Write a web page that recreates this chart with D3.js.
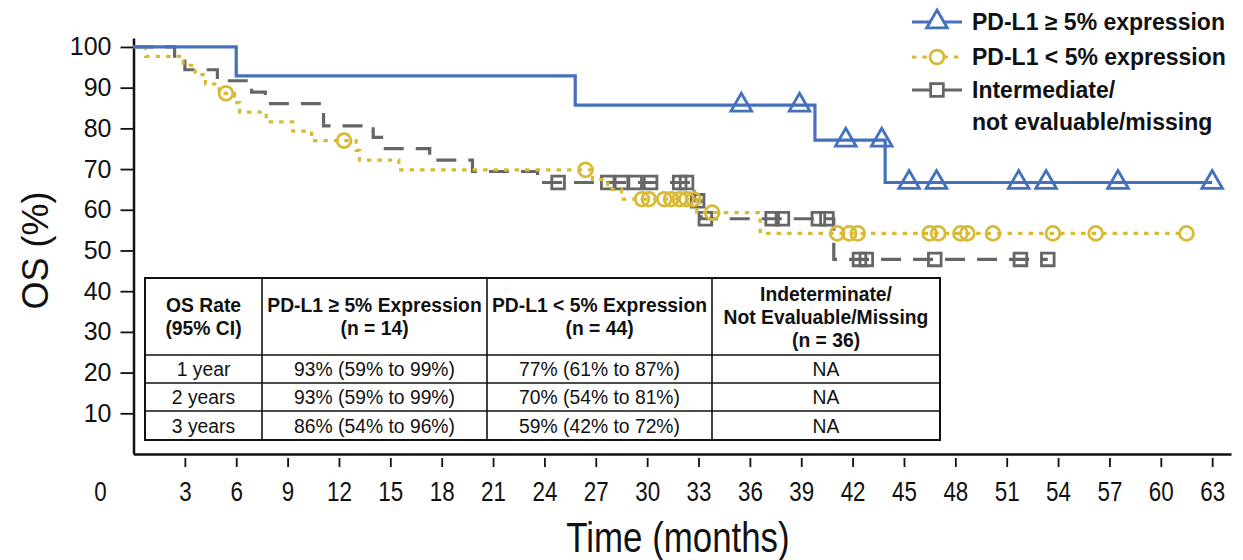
<!DOCTYPE html>
<html>
<head>
<meta charset="utf-8">
<script src="https://cdn.jsdelivr.net/npm/d3@7"></script>
<style>
  body { margin: 0; background: #fff; }
  svg text { font-family: "Liberation Sans", Arial, sans-serif; fill: #111; }
</style>
</head>
<body>
<svg id="chart" width="1243" height="560"></svg>
<script>
// ---- data ----
// step curves: time (months) where the curve drops, and the OS (%) after the drop
const highTimes  = [0, 6.0, 25.8, 39.8, 43.9];
const highValues = [100, 92.9, 85.7, 77.1, 66.7];
const highEnd = 63;
const highCensor = [35.5, 38.9, 41.6, 43.7, 45.3, 46.9, 51.7, 53.3, 57.5, 63.0];

const lowTimes  = [0, 0.7, 2.9, 3.6, 4.2, 5.0, 5.9, 6.2, 7.75, 9.3, 10.4, 13.0, 13.2, 15.5, 26.8, 27.7, 28.5, 32.9, 36.6];
const lowValues = [100, 97.7, 95.5, 93.2, 90.9, 88.6, 86.3, 84.0, 81.6, 79.3, 77.0, 74.6, 72.2, 69.8, 67.4, 65.0, 62.6, 59.3, 54.2];
const lowEnd = 61.5;
const lowCensor = [5.4, 12.3, 26.4, 29.7, 30.1, 31.0, 31.4, 31.9, 32.3, 32.7, 33.8,
                   41.1, 41.8, 42.3, 46.5, 47.0, 48.3, 48.7, 50.2, 53.7, 56.2, 61.5];

const otherTimes  = [0, 2.4, 3.0, 4.9, 6.9, 7.7, 11.1, 14.0, 14.6, 17.3, 19.8, 23.6, 32.75, 33.15, 40.9];
const otherValues = [100, 97.2, 94.4, 91.7, 88.9, 86.1, 80.6, 77.8, 75.0, 72.2, 69.4, 66.7, 62.2, 57.8, 47.8];
const otherEnd = 53.4;
const otherCensor = [24.8, 27.7, 28.5, 29.3, 30.2, 31.9, 32.3, 32.95, 33.4, 37.3, 37.9, 40.0, 40.5,
                     42.4, 42.8, 46.8, 51.8, 53.4];

const xTicks = d3.range(3, 64, 3);
const yTicks = d3.range(10, 101, 10);

const legendLabels = ["PD-L1 \u2265 5% expression", "PD-L1 < 5% expression", "Intermediate/", "not evaluable/missing"];

const tableHeader = [
  ["OS Rate", "(95% CI)"],
  ["PD-L1 \u2265 5% Expression", "(n = 14)"],
  ["PD-L1 < 5% Expression", "(n = 44)"],
  ["Indeterminate/", "Not Evaluable/Missing", "(n = 36)"]
];
const tableRows = [
  ["1 year",  "93% (59% to 99%)", "77% (61% to 87%)", "NA"],
  ["2 years", "93% (59% to 99%)", "70% (54% to 81%)", "NA"],
  ["3 years", "86% (54% to 96%)", "59% (42% to 72%)", "NA"]
];

// ---- chart ----
const svg = d3.select("#chart");
const blue = "#4470bd", gold = "#d8ba36", grey = "#666666";

const xScale = d3.scaleLinear().domain([0, 64.1]).range([133.5, 1231]);
const yScale = d3.scaleLinear().domain([0, 102.2]).range([454, 38]);

// condensed-looking text: regular font squeezed horizontally
function narrowText(g, x, y, str, size, sx, bold) {
  return g.append("text")
    .attr("transform", `translate(${x},${y}) scale(${sx},1)`)
    .attr("text-anchor", "middle")
    .style("font-size", size + "px")
    .style("font-weight", bold ? "bold" : "normal")
    .text(str);
}

// axes
const xAxis = d3.axisBottom(xScale).tickValues(xTicks).tickSize(13).tickSizeOuter(0).tickPadding(14);
const gx = svg.append("g").attr("transform", `translate(0,${yScale(0)})`).call(xAxis);
gx.select(".domain").attr("stroke", "#111").attr("stroke-width", 2.5);
gx.selectAll(".tick line").attr("y1", 4).attr("stroke", "#111").attr("stroke-width", 1.8);
gx.selectAll(".tick text").attr("transform", "scale(0.8,1)").style("font-size", "28px").attr("fill", "#111");
narrowText(svg, xScale(0) - 33, yScale(0) + 47, "0", 28, 0.8);

const yAxis = d3.axisLeft(yScale).tickValues(yTicks).tickSize(13).tickSizeOuter(0).tickPadding(9);
const gy = svg.append("g").attr("transform", `translate(${xScale(0)},0)`).call(yAxis);
gy.select(".domain").attr("stroke", "#111").attr("stroke-width", 2.5);
gy.selectAll(".tick line").attr("stroke", "#111").attr("stroke-width", 1.8);
gy.selectAll(".tick text").style("font-size", "25px").attr("fill", "#111");

narrowText(svg, xScale(31.8), 552, "Time (months)", 42, 0.83);
svg.append("text")
  .attr("transform", `translate(48,${yScale(50)}) rotate(-90)`)
  .attr("text-anchor", "middle").style("font-size", "36px").text("OS (%)");

// table
const colX = [145, 262, 487, 712, 940];
const rowY = [278, 355, 383, 411, 440];
const table = svg.append("g");
table.append("rect").attr("x", colX[0]).attr("y", rowY[0])
  .attr("width", colX[4] - colX[0]).attr("height", rowY[4] - rowY[0])
  .attr("fill", "#fff").attr("stroke", "#111").attr("stroke-width", 2);
colX.slice(1, 4).forEach(x => table.append("line")
  .attr("x1", x).attr("x2", x).attr("y1", rowY[0]).attr("y2", rowY[4])
  .attr("stroke", "#111").attr("stroke-width", 1.6));
rowY.slice(1, 4).forEach(y => table.append("line")
  .attr("x1", colX[0]).attr("x2", colX[4]).attr("y1", y).attr("y2", y)
  .attr("stroke", "#111").attr("stroke-width", 1.6));
tableHeader.forEach((lines, c) => {
  const cx = (colX[c] + colX[c + 1]) / 2;
  const mid = (rowY[0] + rowY[1]) / 2;
  lines.forEach((s, i) =>
    narrowText(table, cx, mid + (i - (lines.length - 1) / 2) * 23 + 7, s, 21, 0.92, true));
});
tableRows.forEach((row, r) => {
  row.forEach((s, c) =>
    narrowText(table, (colX[c] + colX[c + 1]) / 2, (rowY[r + 1] + rowY[r + 2]) / 2 + 7, s, 21, 0.92));
});

// curves
const stepLine = d3.line().curve(d3.curveStepAfter)
  .x(d => xScale(d[0])).y(d => yScale(d[1]));
const valueAt = (times, values, t) => values[Math.max(0, d3.bisectRight(times, t) - 1)];

const series = [
  { times: otherTimes, values: otherValues, end: otherEnd, censor: otherCensor, color: grey, dash: "20,12", symbol: d3.symbolSquare, size: 160 },
  { times: lowTimes, values: lowValues, end: lowEnd, censor: lowCensor, color: gold, dash: "4.5,6", symbol: d3.symbolCircle, size: 150 },
  { times: highTimes, values: highValues, end: highEnd, censor: highCensor, color: blue, dash: null, symbol: d3.symbolTriangle, size: 185 }
];

series.forEach(s => {
  const pts = s.times.map((t, i) => [t, s.values[i]]);
  pts.push([s.end, s.values[s.values.length - 1]]);
  svg.append("path").datum(pts)
    .attr("d", stepLine)
    .attr("fill", "none").attr("stroke", s.color).attr("stroke-width", 3.2)
    .attr("stroke-dasharray", s.dash);
  svg.selectAll(null).data(s.censor).enter().append("path")
    .attr("d", d3.symbol().type(s.symbol).size(s.size))
    .attr("transform", t => `translate(${xScale(t)},${yScale(valueAt(s.times, s.values, t))})`)
    .attr("fill", "none").attr("stroke", s.color).attr("stroke-width", 2.8);
});

// legend
const legendItems = [series[2], series[1], series[0]];
const legendY = [22, 57, 90];
legendItems.forEach((s, i) => {
  svg.append("line").attr("x1", 912).attr("x2", 962).attr("y1", legendY[i]).attr("y2", legendY[i])
    .attr("stroke", s.color).attr("stroke-width", 3.2).attr("stroke-dasharray", s.dash);
  svg.append("path").attr("d", d3.symbol().type(s.symbol).size(s.size))
    .attr("transform", `translate(937,${legendY[i]})`)
    .attr("fill", "#fff").attr("stroke", s.color).attr("stroke-width", 2.8);
});
const legendTextY = [30, 65, 98, 130];
legendLabels.forEach((s, i) => svg.append("text")
  .attr("x", 972).attr("y", legendTextY[i])
  .style("font-size", "23px").style("font-weight", "bold").text(s));
</script>
</body>
</html>
